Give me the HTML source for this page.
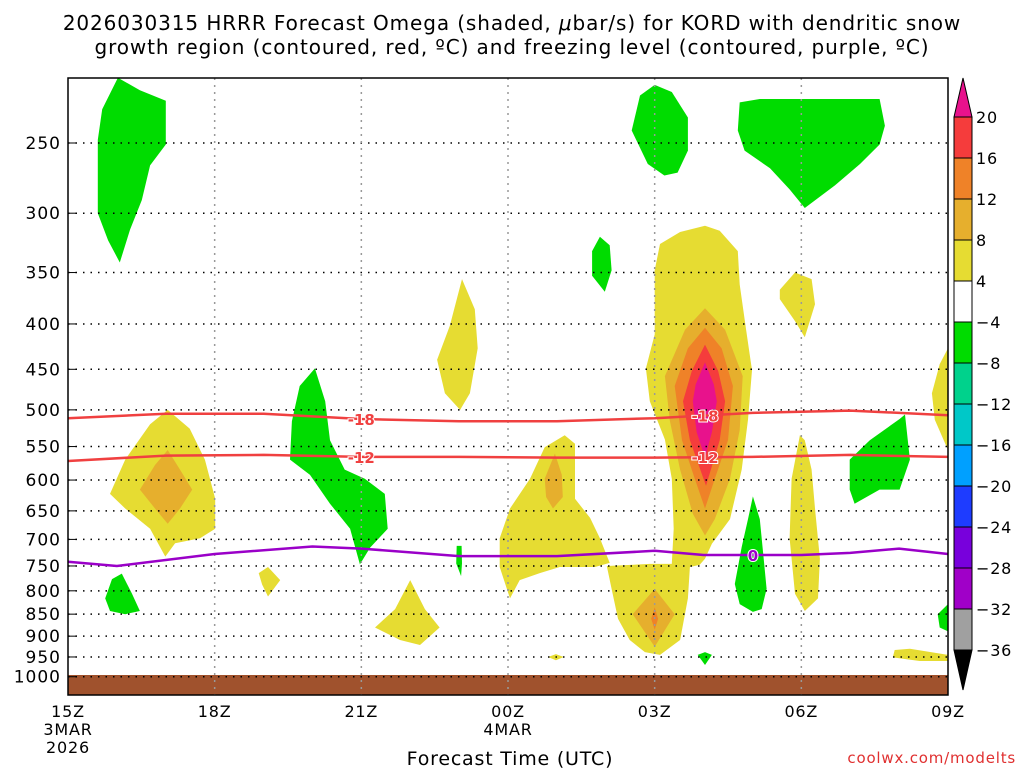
<!DOCTYPE html>
<html><head><meta charset="utf-8"><style>
body{margin:0;background:#fff;}
svg{display:block;font-family:"DejaVu Sans","Liberation Sans",sans-serif;}
</style></head><body>
<svg id="chart" width="1024" height="768" viewBox="0 0 1024 768">
<text x="512" y="30" font-size="20" letter-spacing="0.9" text-anchor="middle">2026030315 HRRR Forecast Omega (shaded, <tspan font-style="italic">μ</tspan>bar/s) for KORD with dendritic snow</text>
<text x="512" y="54" font-size="20" letter-spacing="0.9" text-anchor="middle">growth region (contoured, red, ºC) and freezing level (contoured, purple, ºC)</text>
<g id="plot"></g>
<text x="510" y="765" font-size="19" letter-spacing="0.8" text-anchor="middle">Forecast Time (UTC)</text>
<text x="1016" y="763" font-size="15" letter-spacing="0.8" text-anchor="end" fill="#e03030">coolwx.com/modelts</text>
</svg>
<script>
const xTicks=[0,3,6,9,12,15,18];
const xTickLabels=["15Z","18Z","21Z","00Z","03Z","06Z","09Z"];
const yTicks=[250,300,350,400,450,500,550,600,650,700,750,800,850,900,950,1000];
const cbLevels=[20,16,12,8,4,-4,-8,-12,-16,-20,-24,-28,-32,-36];
const cbColors=["#f53c3c","#ef8228","#e6af2d","#e6dc32","#ffffff","#00dc00","#00d28c","#00c8c8","#00a0ff","#1e3cff","#7800dc","#a000c8","#a0a0a0"];
const isoM18=[[0,511],[2,505],[4,505],[6,512],[8,515],[10,515],[12,511],[14,504],[16,501],[18,507]];
const isoM12=[[0,571],[2,563],[4,562],[6,565],[8,565],[10,566],[12,566],[14,565],[16,562],[18,565]];
const iso0=[[0,742],[1,750],[3,727],[5,713],[6,717],[8,731],[10,731],[12,721],[13,729],[14,729],[15,729],[16,725],[17,717],[18,727]];
// shaded regions: [colour, [[hour, pressure],...]]
const shapes=[
["#00dc00",[[0.61,300],[0.61,248],[0.70,229],[1.02,211],[1.47,218],[2.0,224],[2.0,251],[1.68,265],[1.51,290],[1.27,313],[1.06,341],[0.82,322]]],
["#00dc00",[[0.76,816],[0.9,776],[1.1,765],[1.31,806],[1.47,843],[1.17,850],[0.86,843]]],
["#e6dc32",[[0.86,622],[1.17,569],[1.68,519],[2.04,500],[2.49,525],[2.8,569],[3.01,630],[3.01,681],[2.7,698],[2.19,707],[1.99,732],[1.68,681],[1.17,646]]],
["#e6af2d",[[1.47,615],[1.78,577],[2.04,555],[2.29,584],[2.54,615],[2.29,646],[2.04,672],[1.78,646]]],
["#00dc00",[[4.58,515],[4.74,470],[5.05,449],[5.26,489],[5.36,541],[5.66,584],[6.07,598],[6.48,622],[6.54,681],[6.18,715],[5.97,747],[5.77,681],[5.36,638],[4.95,592],[4.54,569]]],
["#e6dc32",[[3.9,764],[4.09,752],[4.34,778],[4.09,812],[3.97,787]]],
["#e6dc32",[[6.28,880],[6.69,839],[7.0,778],[7.3,839],[7.6,880],[7.2,921],[6.79,909]]],
["#00dc00",[[7.95,712],[8.05,712],[8.06,745],[8.04,770],[7.94,745]]],
["#e6dc32",[[7.55,439],[7.81,402],[8.06,356],[8.32,385],[8.38,426],[8.22,479],[8.02,500],[7.71,479]]],
["#e6dc32",[[8.83,698],[9.04,646],[9.45,598],[9.75,551],[10.16,534],[10.37,546],[10.37,630],[10.68,662],[10.88,698],[11.08,744],[10.78,752],[10.47,752],[10.06,752],[9.65,764],[9.24,778],[9.04,816],[8.83,752]]],
["#e6af2d",[[9.75,598],[9.96,560],[10.1,592],[10.12,627],[9.92,646],[9.78,627]]],
["#e6dc32",[[9.82,950],[9.98,943],[10.14,950],[9.98,958]]],
["#00dc00",[[10.72,331],[10.88,319],[11.08,326],[11.12,348],[10.98,368],[10.72,353]]],
["#00dc00",[[11.53,242],[11.7,221],[12.0,215],[12.35,219],[12.68,234],[12.68,255],[12.47,270],[12.2,272],[11.86,264]]],
["#e6dc32",[[13.03,310],[13.33,314],[13.7,331],[13.74,361],[13.87,406],[13.99,451],[13.91,513],[13.78,584],[13.54,664],[13.17,708],[13.03,736],[12.92,748],[12.72,752],[12.68,816],[12.52,909],[12.11,945],[11.8,938],[11.49,909],[11.25,860],[11.12,796],[11.02,750],[11.9,746],[12.35,746],[12.39,681],[12.35,598],[12.21,540],[11.9,489],[11.82,449],[12.0,411],[12.0,348],[12.11,325],[12.52,315]]],
["#e6af2d",[[13.03,384],[13.44,406],[13.8,458],[13.74,527],[13.54,598],[13.23,664],[13.03,693],[12.78,655],[12.52,584],[12.31,514],[12.21,458],[12.62,406]]],
["#ef8228",[[13.03,404],[13.37,426],[13.6,470],[13.5,541],[13.23,598],[13.03,646],[12.82,598],[12.56,541],[12.41,470],[12.68,426]]],
["#f53c3c",[[13.03,422],[13.3,452],[13.44,489],[13.33,541],[13.05,609],[12.72,541],[12.58,489],[12.76,452]]],
["#e8128c",[[13.03,442],[13.21,468],[13.27,489],[13.17,530],[13.03,566],[12.86,530],[12.78,489],[12.84,468]]],
["#e6af2d",[[12.0,796],[12.41,850],[12.0,925],[11.55,850]]],
["#ef8228",[[12.0,835],[12.07,860],[12.0,885],[11.93,860]]],
["#00dc00",[[14.01,626],[14.15,664],[14.23,736],[14.29,796],[14.19,839],[14.01,845],[13.74,828],[13.64,786],[13.78,714],[13.91,664]]],
["#00dc00",[[13.03,938],[13.17,945],[13.03,970],[12.88,945]]],
["#e6dc32",[[14.97,534],[15.07,541],[15.21,584],[15.28,646],[15.38,736],[15.34,816],[15.07,843],[14.87,806],[14.76,698],[14.8,598]]],
["#e6dc32",[[14.56,366],[14.87,350],[15.21,356],[15.28,380],[15.07,414],[14.87,397],[14.56,375]]],
["#00dc00",[[13.7,242],[13.74,225],[14.15,223],[16.6,223],[16.71,239],[16.6,251],[16.2,264],[15.69,279],[15.07,296],[14.76,282],[14.36,267],[13.84,255]]],
["#00dc00",[[15.99,569],[16.4,541],[17.01,512],[17.12,506],[17.22,569],[17.01,615],[16.6,615],[16.09,638],[15.99,615]]],
["#e6dc32",[[18,426],[17.83,444],[17.67,479],[17.73,513],[18,555]]],
["#00dc00",[[18,828],[17.79,850],[17.83,880],[18,889]]],
["#e6dc32",[[16.91,933],[17.22,930],[18,945],[18,960],[17.42,960],[16.87,951]]]
];
const X0=68,X1=948,YT=78,YB=695;
const xs=h=>X0+h*(X1-X0)/18;
const ys=p=>143+385*Math.log(p/250);
const NS="http://www.w3.org/2000/svg";
const plot=document.getElementById('plot');
function mk(tag,attrs,parent){const e=document.createElementNS(NS,tag);for(const k in attrs)e.setAttribute(k,attrs[k]);(parent||plot).appendChild(e);return e;}
shapes.forEach((s,i)=>{
 const e=mk('polygon',{points:s[1].map(q=>xs(q[0]).toFixed(1)+','+ys(q[1]).toFixed(1)).join(' '),fill:s[0]});
 
 
});
const g=mk('rect',{x:X0,y:675,width:X1-X0,height:YB-675,fill:"#a0522d"});


yTicks.forEach(p=>{
 const y=ys(p);
 const l=mk('line',{x1:X0,x2:X1,y1:y,y2:y,stroke:"#000","stroke-width":1.5,"stroke-dasharray":"1.5 6"});
 
 
 const t=mk('text',{x:61,y:y+6,"font-size":17,"letter-spacing":1,"text-anchor":"end"});t.textContent=p;
 
 
 mk('line',{x1:X0,x2:X0+8,y1:y,y2:y,stroke:"#000"});
});
xTicks.forEach((h,i)=>{
 const x=xs(h);
 if(i>0&&i<xTicks.length-1){const l=mk('line',{x1:x,x2:x,y1:YT,y2:YB,stroke:"#999","stroke-width":1.5,"stroke-dasharray":"2 5"});
 
 }
 const t=mk('text',{x:x,y:717,"font-size":16,"letter-spacing":0.8,"text-anchor":"middle"});t.textContent=xTickLabels[i];
 
 
});
[["3MAR",0,735],["2026",0,753],["4MAR",9,735]].forEach(a=>{const t=mk('text',{x:xs(a[1]),y:a[2],"font-size":16,"letter-spacing":0.8,"text-anchor":"middle"});t.textContent=a[0];
 
 });
function line(arr,col,name,lab,lh){
 const e=mk('polyline',{points:arr.map(q=>xs(q[0]).toFixed(1)+','+ys(q[1]).toFixed(1)).join(' '),fill:"none",stroke:col,"stroke-width":2.5});
 
 
 lab.forEach(h=>{
  let p=arr[0][1];for(let i=0;i<arr.length-1;i++)if(h>=arr[i][0]&&h<=arr[i+1][0]){const f=(h-arr[i][0])/(arr[i+1][0]-arr[i][0]);p=arr[i][1]*(1-f)+arr[i+1][1]*f;}
  const y=ys(p);
  const t=mk('text',{x:xs(h),y:y+6,"font-size":15,"font-weight":"bold","text-anchor":"middle",fill:col,stroke:"#fff","stroke-width":2,"paint-order":"stroke"});t.textContent=lh;
  
  
 });
}
line(isoM18,"#f04040","isotherm-minus18",[6,13.03],"-18");
line(isoM12,"#f04040","isotherm-minus12",[6,13.03],"-12");
line(iso0,"#9a00c8","freezing-level",[14.01],"0");
const fr=mk('rect',{x:X0,y:YT,width:X1-X0,height:YB-YT,fill:"none",stroke:"#000","stroke-width":1.5});


const CX=954,CW=18;
cbColors.forEach((c,i)=>{
 const y1=117+i*41;
 const r=mk('rect',{x:CX,y:y1,width:CW,height:41,fill:c,stroke:"#000","stroke-width":1});
 
 
});
const tu=mk('polygon',{points:`${CX},117 ${CX+CW},117 ${CX+CW/2},78`,fill:"#e8128c",stroke:"#000"});


const td=mk('polygon',{points:`${CX},${117+13*41} ${CX+CW},${117+13*41} ${CX+CW/2},690`,fill:"#000",stroke:"#000"});


cbLevels.forEach((v,i)=>{
 const t=mk('text',{x:976,y:117+i*41+6,"font-size":16,"letter-spacing":0.8});t.textContent=v<0?"\u2212"+(-v):String(v);
 
 
});
</script>
</body></html>
